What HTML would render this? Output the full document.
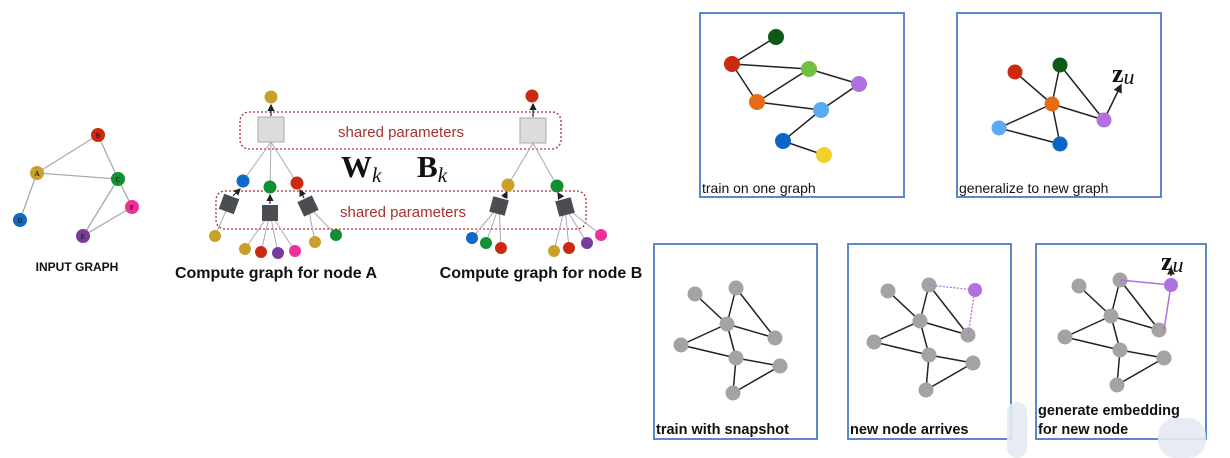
<!DOCTYPE html>
<html><head><meta charset="utf-8"><style>
html,body{margin:0;padding:0;background:#fff;}
svg{display:block;font-family:"Liberation Sans",sans-serif;}
</style></head><body>
<svg width="1230" height="458" viewBox="0 0 1230 458" xmlns="http://www.w3.org/2000/svg">
<defs>
<marker id="ah" markerWidth="6" markerHeight="6" refX="5" refY="3" orient="auto"><path d="M0,0 L6,3 L0,6 z" fill="#222"/></marker>
</defs>
<!-- INPUT GRAPH -->
<g stroke="#aaa" stroke-width="1.3">
<line x1="37" y1="173" x2="98" y2="135"/><line x1="37" y1="173" x2="118" y2="179"/><line x1="98" y1="135" x2="118" y2="179"/>
<line x1="37" y1="173" x2="20" y2="220"/><line x1="118" y1="179" x2="132" y2="207"/><line x1="118" y1="179" x2="83" y2="236"/><line x1="132" y1="207" x2="83" y2="236"/>
</g>
<g font-family="Liberation Serif,serif" font-size="7" font-weight="bold" text-anchor="middle" fill="#222">
<circle cx="98" cy="135" r="7" fill="#cc2a10"/><text x="98" y="138">B</text>
<circle cx="37" cy="173" r="7" fill="#c9a12a"/><text x="37" y="176">A</text>
<circle cx="118" cy="179" r="7" fill="#109030"/><text x="118" y="182">C</text>
<circle cx="132" cy="207" r="7" fill="#f0309a"/><text x="132" y="210">F</text>
<circle cx="20" cy="220" r="7" fill="#1068c8"/><text x="20" y="223">D</text>
<circle cx="83" cy="236" r="7" fill="#7a3aa0"/><text x="83" y="239">E</text>
</g>
<text x="77" y="271" font-size="12" font-weight="bold" text-anchor="middle" fill="#111">INPUT GRAPH</text>

<!-- compute graph frames -->
<rect x="240" y="112" width="321" height="37" rx="9" fill="none" stroke="#b03030" stroke-width="1.3" stroke-dasharray="2,2"/>
<rect x="216" y="191" width="370" height="38" rx="9" fill="none" stroke="#b03030" stroke-width="1.3" stroke-dasharray="2,2"/>
<text x="401" y="137" font-size="15" fill="#a83232" text-anchor="middle">shared parameters</text>
<text x="403" y="217" font-size="15" fill="#a83232" text-anchor="middle">shared parameters</text>
<text x="341" y="177" font-family="Liberation Serif,serif" font-size="31" font-weight="bold" fill="#111">W<tspan font-style="italic" font-weight="normal" font-size="21" dy="5">k</tspan></text>
<text x="417" y="177" font-family="Liberation Serif,serif" font-size="31" font-weight="bold" fill="#111">B<tspan font-style="italic" font-weight="normal" font-size="21" dy="5">k</tspan></text>

<g stroke="#aaa" stroke-width="1">
<line x1="271" y1="142" x2="243" y2="181"/><line x1="271" y1="142" x2="270" y2="187"/><line x1="271" y1="142" x2="297" y2="183"/>
<line x1="229" y1="204" x2="215" y2="236"/>
<line x1="270" y1="213" x2="245" y2="249"/><line x1="270" y1="213" x2="261" y2="252"/><line x1="270" y1="213" x2="278" y2="253"/><line x1="270" y1="213" x2="295" y2="251"/>
<line x1="308" y1="206" x2="315" y2="242"/><line x1="308" y1="206" x2="336" y2="235"/>
<line x1="533" y1="143" x2="508" y2="185"/><line x1="533" y1="143" x2="557" y2="186"/>
<line x1="499" y1="206" x2="472" y2="238"/><line x1="499" y1="206" x2="486" y2="243"/><line x1="499" y1="206" x2="501" y2="248"/>
<line x1="565" y1="207" x2="554" y2="251"/><line x1="565" y1="207" x2="569" y2="248"/><line x1="565" y1="207" x2="587" y2="243"/><line x1="565" y1="207" x2="601" y2="235"/>
</g>
<g stroke="#222" stroke-width="1.2" marker-end="url(#ah)">
<line x1="271" y1="116" x2="271" y2="105"/><line x1="533" y1="117" x2="533" y2="104"/>
<line x1="233" y1="196" x2="240" y2="189"/><line x1="270" y1="204" x2="270" y2="195"/><line x1="304" y1="198" x2="300" y2="190"/>
<line x1="504" y1="198" x2="507" y2="192"/><line x1="561" y1="198" x2="558" y2="193"/>
</g>
<rect x="258" y="117" width="26" height="25" fill="#dcdcdc" stroke="#aaa"/>
<rect x="520" y="118" width="26" height="25" fill="#dcdcdc" stroke="#aaa"/>
<g fill="#4a4d52">
<rect x="221" y="196" width="16" height="16" transform="rotate(20 229 204)"/>
<rect x="262" y="205" width="16" height="16"/>
<rect x="300" y="198" width="16" height="16" transform="rotate(-25 308 206)"/>
<rect x="491" y="198" width="16" height="16" transform="rotate(15 499 206)"/>
<rect x="557" y="199" width="16" height="16" transform="rotate(-15 565 207)"/>
</g>
<g>
<circle cx="271" cy="97" r="6.5" fill="#c9a12a"/><circle cx="532" cy="96" r="6.5" fill="#cc2a10"/>
<circle cx="243" cy="181" r="6.5" fill="#1068c8"/><circle cx="270" cy="187" r="6.5" fill="#109030"/><circle cx="297" cy="183" r="6.5" fill="#cc2a10"/>
<circle cx="508" cy="185" r="6.5" fill="#c9a12a"/><circle cx="557" cy="186" r="6.5" fill="#109030"/>
<circle cx="215" cy="236" r="6" fill="#c9a12a"/><circle cx="245" cy="249" r="6" fill="#c9a12a"/><circle cx="261" cy="252" r="6" fill="#cc2a10"/><circle cx="278" cy="253" r="6" fill="#7a3aa0"/><circle cx="295" cy="251" r="6" fill="#f0309a"/><circle cx="315" cy="242" r="6" fill="#c9a12a"/><circle cx="336" cy="235" r="6" fill="#109030"/>
<circle cx="472" cy="238" r="6" fill="#1068c8"/><circle cx="486" cy="243" r="6" fill="#109030"/><circle cx="501" cy="248" r="6" fill="#cc2a10"/><circle cx="554" cy="251" r="6" fill="#c9a12a"/><circle cx="569" cy="248" r="6" fill="#cc2a10"/><circle cx="587" cy="243" r="6" fill="#7a3aa0"/><circle cx="601" cy="235" r="6" fill="#f0309a"/>
</g>
<text x="276" y="278" font-size="16" font-weight="bold" text-anchor="middle" fill="#111">Compute graph for node A</text>
<text x="541" y="278" font-size="16" font-weight="bold" text-anchor="middle" fill="#111">Compute graph for node B</text>

<!-- Right panels -->
<g fill="none" stroke="#5a88c8" stroke-width="2">
<rect x="700" y="13" width="204" height="184"/>
<rect x="957" y="13" width="204" height="184"/>
<rect x="654" y="244" width="163" height="195"/>
<rect x="848" y="244" width="163" height="195"/>
<rect x="1036" y="244" width="170" height="195"/>
</g>
<g stroke="#222" stroke-width="1.5">
<line x1="776" y1="37" x2="732" y2="64"/><line x1="732" y1="64" x2="809" y2="69"/><line x1="732" y1="64" x2="757" y2="102"/><line x1="757" y1="102" x2="809" y2="69"/><line x1="809" y1="69" x2="859" y2="84"/><line x1="757" y1="102" x2="821" y2="110"/><line x1="859" y1="84" x2="821" y2="110"/><line x1="821" y1="110" x2="783" y2="141"/><line x1="783" y1="141" x2="824" y2="155"/>
</g>
<circle cx="776" cy="37" r="8" fill="#0c5a16"/><circle cx="732" cy="64" r="8" fill="#cc2a10"/><circle cx="809" cy="69" r="8" fill="#72c040"/><circle cx="859" cy="84" r="8" fill="#b070e0"/><circle cx="757" cy="102" r="8" fill="#e56c14"/><circle cx="821" cy="110" r="8" fill="#5aaaf5"/><circle cx="783" cy="141" r="8" fill="#0a66c6"/><circle cx="824" cy="155" r="8" fill="#f2d22a"/>
<text x="702" y="193" font-size="14" fill="#111">train on one graph</text>
<g stroke="#222" stroke-width="1.5">
<line x1="1015" y1="72" x2="1052" y2="104"/><line x1="1060" y1="65" x2="1052" y2="104"/><line x1="1060" y1="65" x2="1104" y2="120"/><line x1="1052" y1="104" x2="1104" y2="120"/><line x1="1052" y1="104" x2="999" y2="128"/><line x1="1052" y1="104" x2="1060" y2="144"/><line x1="999" y1="128" x2="1060" y2="144"/>
<line x1="1104" y1="120" x2="1121" y2="85" marker-end="url(#ah)"/>
</g>
<circle cx="1015" cy="72" r="7.5" fill="#cc2a10"/><circle cx="1060" cy="65" r="7.5" fill="#0c5a16"/><circle cx="1052" cy="104" r="7.5" fill="#e56c14"/><circle cx="1104" cy="120" r="7.5" fill="#b070e0"/><circle cx="999" cy="128" r="7.5" fill="#5aaaf5"/><circle cx="1060" cy="144" r="7.5" fill="#0a66c6"/>
<text x="1112" y="82" font-family="Liberation Serif,serif" font-size="26" font-weight="bold" fill="#111">z<tspan font-style="italic" font-weight="normal" font-size="22" dy="2">u</tspan></text>
<text x="959" y="193" font-size="14" fill="#111">generalize to new graph</text>

<g id="g3">
<g stroke="#222" stroke-width="1.5">
<line x1="695" y1="294" x2="727" y2="324"/><line x1="736" y1="288" x2="727" y2="324"/><line x1="736" y1="288" x2="775" y2="338"/><line x1="727" y1="324" x2="775" y2="338"/><line x1="727" y1="324" x2="681" y2="345"/><line x1="727" y1="324" x2="736" y2="358"/><line x1="681" y1="345" x2="736" y2="358"/><line x1="736" y1="358" x2="780" y2="366"/><line x1="736" y1="358" x2="733" y2="393"/><line x1="780" y1="366" x2="733" y2="393"/>
</g>
<g fill="#a3a3a3">
<circle cx="695" cy="294" r="7.5"/><circle cx="736" cy="288" r="7.5"/><circle cx="727" cy="324" r="7.5"/><circle cx="775" cy="338" r="7.5"/><circle cx="681" cy="345" r="7.5"/><circle cx="736" cy="358" r="7.5"/><circle cx="780" cy="366" r="7.5"/><circle cx="733" cy="393" r="7.5"/>
</g>
</g>
<use href="#g3" transform="translate(193,-3)"/>
<use href="#g3" transform="translate(384,-8)"/>
<path d="M929,285 L975,290 L968,335" fill="none" stroke="#b070e0" stroke-width="1.3" stroke-dasharray="2,1.5"/>
<circle cx="975" cy="290" r="7" fill="#b070e0"/>
<path d="M1120,280 L1171,285 L1164,330" fill="none" stroke="#b070e0" stroke-width="1.5"/>
<circle cx="1171" cy="285" r="7" fill="#b070e0"/>
<line x1="1171" y1="276" x2="1171" y2="268" stroke="#111" stroke-width="1.3" marker-end="url(#ah)"/>
<text x="1161" y="270" font-family="Liberation Serif,serif" font-size="26" font-weight="bold" fill="#111">z<tspan font-style="italic" font-weight="normal" font-size="22" dy="2">u</tspan></text>
<text x="656" y="434" font-size="14.5" font-weight="bold" fill="#111">train with snapshot</text>
<text x="850" y="434" font-size="14.5" font-weight="bold" fill="#111">new node arrives</text>
<text x="1038" y="415" font-size="14.5" font-weight="bold" fill="#111">generate embedding</text>
<text x="1038" y="434" font-size="14.5" font-weight="bold" fill="#111">for new node</text>
<rect x="1007" y="402" width="20" height="56" rx="10" fill="#e4eaf3" opacity="0.9"/>
<rect x="1158" y="418" width="48" height="40" rx="18" fill="#e4eaf3" opacity="0.9"/>
</svg>
</body></html>
